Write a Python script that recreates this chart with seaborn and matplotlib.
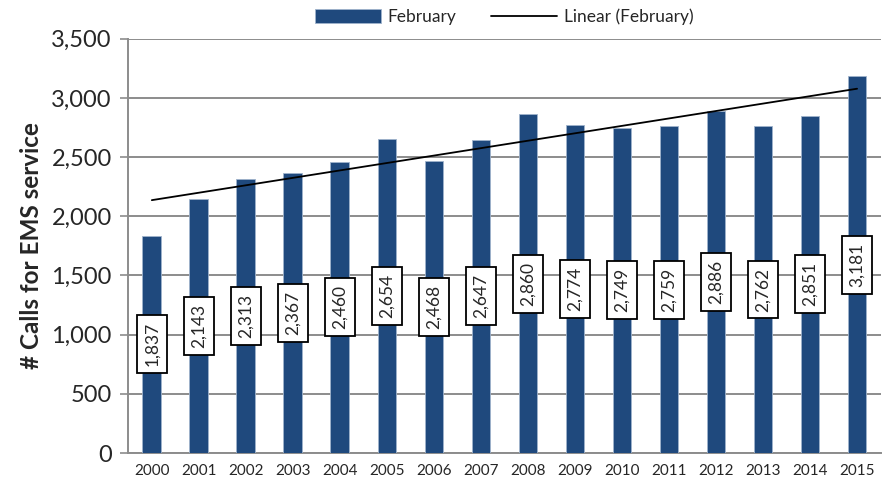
import numpy as np
import pandas as pd
import matplotlib
matplotlib.use('Agg')
import matplotlib.pyplot as plt
import seaborn as sns

years = ['2000', '2001', '2002', '2003', '2004', '2005', '2006', '2007',
         '2008', '2009', '2010', '2011', '2012', '2013', '2014', '2015']
february = [1837, 2143, 2313, 2367, 2460, 2654, 2468, 2647,
            2860, 2774, 2749, 2759, 2886, 2762, 2851, 3181]

df = pd.DataFrame({'year': years, 'calls': february})

sns.set_style('white')
plt.rcParams['font.family'] = ['Lato', 'DejaVu Sans']

fig, ax = plt.subplots(figsize=(8.85, 4.84), dpi=100)
fig.subplots_adjust(left=0.145, right=0.995, top=0.92, bottom=0.064)

sns.barplot(data=df, x='year', y='calls', color='#1F497D', saturation=1,
            width=0.4, edgecolor='#9fb3cc', linewidth=0.6, ax=ax, zorder=3,
            label='February')

# linear trendline (least squares fit of the series)
xs = np.arange(len(years))
slope, intercept = np.polyfit(xs, february, 1)
ax.plot(xs, slope * xs + intercept, color='black', lw=1.3, zorder=4,
        label='Linear (February)')

# data labels in the middle of each bar
for i, v in enumerate(february):
    ax.text(i, v / 2, f'{v:,}', rotation=90, ha='center', va='center',
            fontsize=12.5, zorder=5,
            bbox=dict(boxstyle='square,pad=0.4', fc='white', ec='black', lw=1.3))

ax.set_ylim(0, 3500)
ax.set_xlim(-0.5, len(years) - 0.5)
ax.set_yticks(range(0, 3501, 500))
ax.set_yticklabels([f'{t:,}' for t in range(0, 3501, 500)], fontsize=17)
ax.yaxis.grid(True, color='#8c8c8c', lw=1.4, zorder=0)
ax.set_axisbelow(True)

ax.tick_params(axis='x', which='major', length=0, labelsize=11, pad=8)
ax.set_xticks(np.arange(-0.5, len(years), 1), minor=True)
ax.tick_params(axis='x', which='minor', length=6, color='#8c8c8c', width=1.2)
ax.tick_params(axis='y', length=6, color='#8c8c8c', width=1.2, left=True, pad=6)

for s in ['top', 'right']:
    ax.spines[s].set_visible(False)
for s in ['left', 'bottom']:
    ax.spines[s].set_color('#8c8c8c')
    ax.spines[s].set_linewidth(1.4)

ax.set_xlabel('')
ax.set_ylabel('# Calls for EMS service', fontsize=17.5, fontweight='bold', labelpad=6)

handles, labels = ax.get_legend_handles_labels()
order = [labels.index('February'), labels.index('Linear (February)')]
ax.legend([handles[k] for k in order], [labels[k] for k in order],
          loc='lower center', bbox_to_anchor=(0.5, 0.995), ncol=2, frameon=False,
          fontsize=12.5, handlelength=3.8, handleheight=0.9, columnspacing=2.0,
          handletextpad=0.4)

fig.savefig('out.png', dpi=100)
